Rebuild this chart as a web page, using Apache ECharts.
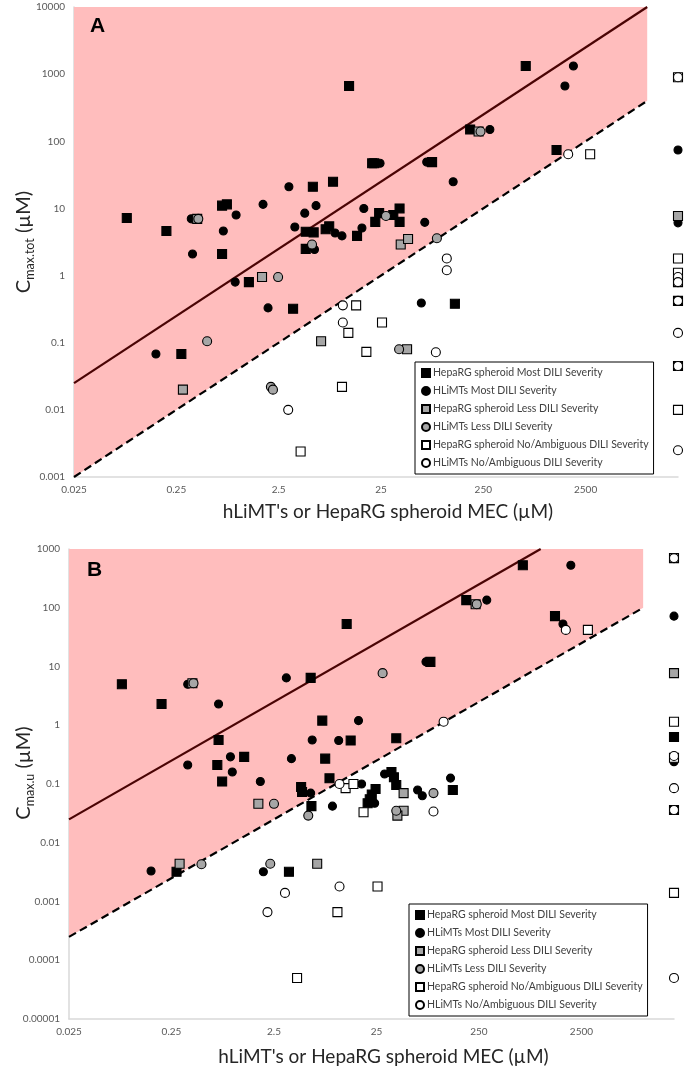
<!DOCTYPE html>
<html><head><meta charset="utf-8">
<script src="https://cdn.jsdelivr.net/npm/echarts@6/dist/echarts.min.js"></script>
<style>html,body{margin:0;padding:0;background:#fff}#c{width:685px;height:1069px}</style>
</head><body><div id="c"></div>
<script>
// ---------- categories / ticks ----------
const seriesNames = [
  'HepaRG spheroid Most DILI Severity',
  'HLiMTs Most DILI Severity',
  'HepaRG spheroid Less DILI Severity',
  'HLiMTs Less DILI Severity',
  'HepaRG spheroid No/Ambiguous DILI Severity',
  'HLiMTs No/Ambiguous DILI Severity'
];
const xTickValues = [0.025, 0.25, 2.5, 25, 250, 2500];
const xTickLabels = ['0.025', '0.25', '2.5', '25', '250', '2500'];
const yTickValuesA = [0.001, 0.01, 0.1, 1, 10, 100, 1000, 10000];
const yTickLabelsA = ['0.001', '0.01', '0.1', '1', '10', '100', '1000', '10000'];
const yTickValuesB = [0.00001, 0.0001, 0.001, 0.01, 0.1, 1, 10, 100, 1000];
const yTickLabelsB = ['0.00001', '0.0001', '0.001', '0.01', '0.1', '1', '10', '100', '1000'];

// ---------- reference lines (x, y) ----------
const unityLineA = [[0.025, 0.025], [10000, 10000]];
const lowerLineA = [[0.025, 0.001], [10000, 400]];
const unityLineB = [[0.025, 0.025], [1000, 1000]];
const lowerLineB = [[0.025, 0.00025], [10000, 100]];

// ---------- Panel A data: [MEC, Cmax.tot] ----------
const aHepaRGMost = [[0.082,7.2],[0.2,4.6],[0.7,11],[0.78,11.5],[0.7,2.1],[5.4,21],[8.5,25],[4.6,4.5],[5.5,4.4],[7.2,4.9],[7.8,5.4],[4.6,2.5],[1.28,0.8],[3.46,0.32],[20.5,47],[21.5,47],[79,49],[24,8.5],[22,6.3],[14.6,3.9],[33,8],[38,10],[38,6.3],[132,0.38],[12.2,665],[650,1320],[186,150],[1300,74],[0.28,0.068],[20000,0.42],[20000,0.045]];
const aHLiMTsMost = [[0.36,2.1],[0.35,7.0],[0.72,4.6],[0.96,8],[1.76,11.5],[3.15,21],[5.8,11],[4.5,8.5],[3.6,5.3],[8.9,4.3],[10.4,3.9],[5.6,2.45],[0.94,0.8],[1.97,0.33],[24.5,47],[70,49],[17,10],[16.3,5.1],[67,6.2],[62,0.39],[1900,1320],[1570,665],[290,150],[127,25],[0.158,0.068],[20000,74],[20000,6.1],[20000,1.0]];
const aHepaRGLess = [[0.4,7.0],[1.72,0.95],[39,2.9],[46,3.5],[6.5,0.105],[45,0.08],[0.29,0.02],[225,140],[20000,7.7]];
const aHLiMTsLess = [[0.41,7.0],[5.3,2.9],[2.47,0.95],[28,7.7],[88,3.6],[37.6,0.08],[2.1,0.022],[2.2,0.020],[0.5,0.105],[235,140]];
const aHepaRGNo = [[14.3,0.36],[25.6,0.2],[12,0.14],[18,0.073],[10.4,0.022],[4.1,0.0024],[2770,64],[20000,900],[20000,1.8],[20000,1.1],[20000,0.8],[20000,0.01]];
const aHLiMTsNo = [[110,1.8],[110,1.2],[10.6,0.36],[10.6,0.2],[86,0.072],[3.1,0.01],[1690,64],[20000,900],[20000,0.95],[20000,0.8],[20000,0.42],[20000,0.14],[20000,0.045],[20000,0.0025]];

// ---------- Panel B data: [MEC, Cmax.u] ----------
const bHepaRGMost = [[0.082,5.0],[0.2,2.3],[0.72,0.56],[0.7,0.21],[1.28,0.29],[0.78,0.11],[5.7,6.4],[7.4,1.2],[14,0.55],[7.9,0.27],[8.7,0.125],[12.8,53],[39,0.6],[4.6,0.089],[4.7,0.073],[5.8,0.042],[24.5,0.082],[22.5,0.066],[21.5,0.055],[20.5,0.047],[35,0.16],[37,0.13],[39,0.096],[139,0.079],[3.5,0.0032],[0.28,0.0032],[670,530],[188,135],[1380,72],[84,12],[20000,0.63],[20000,0.036]];
const bHLiMTsMost = [[0.36,5.0],[0.72,2.3],[0.36,0.21],[0.94,0.29],[0.98,0.16],[1.84,0.11],[3.3,6.4],[5.9,0.56],[10.7,0.55],[3.7,0.27],[16.7,1.2],[5.7,0.07],[9.3,0.042],[17.9,0.1],[24,0.047],[30,0.148],[63,0.079],[70,0.063],[132,0.126],[1.97,0.0032],[0.158,0.0033],[1970,530],[298,135],[1650,53],[76,12],[20000,72],[20000,0.24]];
const bHepaRGLess = [[0.4,5.2],[1.76,0.046],[46,0.07],[46,0.035],[40,0.029],[6.6,0.0044],[0.3,0.0044],[232,115],[20000,7.7]];
const bHLiMTsLess = [[0.41,5.2],[5.4,0.029],[2.5,0.046],[90,0.07],[39,0.035],[2.3,0.0044],[0.49,0.0043],[238,115],[28.7,7.7]];
const bHepaRGNo = [[12.5,0.085],[14.9,0.1],[18.7,0.033],[25.6,0.0018],[10.4,0.00066],[4.2,0.00005],[2890,42],[20000,700],[20000,1.15],[20000,0.28],[20000,0.0014]];
const bHLiMTsNo = [[10.9,0.1],[90,0.034],[113,1.15],[3.2,0.0014],[10.9,0.0018],[2.16,0.00066],[1760,42],[20000,700],[20000,0.3],[20000,0.085],[20000,0.036],[20000,0.00005]];

// ---------- build ----------
const FONT = 'Lato';
const PINK = '#ffbdbd';
const markerStyles = [
  {symbol:'rect', size:9, color:'#000000'},
  {symbol:'circle', size:8, color:'#000000'},
  {symbol:'rect', size:9, color:'#a6a6a6'},
  {symbol:'circle', size:9, color:'#a6a6a6'},
  {symbol:'rect', size:9, color:'#ffffff'},
  {symbol:'circle', size:9, color:'#ffffff'}
];
const panelA = [aHepaRGMost, aHLiMTsMost, aHepaRGLess, aHLiMTsLess, aHepaRGNo, aHLiMTsNo];
const panelB = [bHepaRGMost, bHLiMTsMost, bHepaRGLess, bHLiMTsLess, bHepaRGNo, bHLiMTsNo];

function lookup(vals, labels) {
  return function (v) {
    for (let i = 0; i < vals.length; i++) {
      if (Math.abs(Math.log10(vals[i]) - Math.log10(v)) < 1e-6) return labels[i];
    }
    return '';
  };
}

function xAxisFor(gi, nameGap) {
  return {
    type: 'log', logBase: 10, gridIndex: gi, min: 0.025, max: 20000,
    axisLine: {show: true, lineStyle: {color: '#d9d9d9', width: 1.5}},
    axisTick: {show: false}, splitLine: {show: false},
    axisLabel: {customValues: xTickValues, formatter: lookup(xTickValues, xTickLabels),
      fontFamily: FONT, fontSize: 10, color: '#595959', margin: 8},
    name: "hLiMT's or HepaRG spheroid MEC (µM)", nameLocation: 'middle', nameGap: nameGap,
    nameMoveOverlap: false,
    nameTextStyle: {fontFamily: FONT, fontSize: 19, color: '#262626', padding: [0, 0, 0, 24]}
  };
}
function yAxisFor(gi, min, max, vals, labels, sub, nameGap, shift) {
  return {
    type: 'log', logBase: 10, gridIndex: gi, min: min, max: max,
    axisLine: {show: true, lineStyle: {color: '#d9d9d9', width: 1.5}},
    axisTick: {show: false}, splitLine: {show: false},
    axisLabel: {customValues: vals, formatter: lookup(vals, labels),
      fontFamily: FONT, fontSize: 10, color: '#595959', margin: 9},
    name: '{c|C}{s|' + sub + '}{c| (µM)}', nameLocation: 'middle', nameGap: nameGap,
    nameMoveOverlap: false,
    nameTextStyle: {fontFamily: FONT, color: '#262626', padding: [0, 0, 0, shift], rich: {
      c: {fontFamily: FONT, fontSize: 20, lineHeight: 24, color: '#262626'},
      s: {fontFamily: FONT, fontSize: 12.5, lineHeight: 12, verticalAlign: 'bottom', color: '#262626'}
    }}
  };
}

const series = [];
[[panelA, 0, unityLineA, lowerLineA], [panelB, 1, unityLineB, lowerLineB]].forEach(function (p) {
  const data = p[0], gi = p[1];
  series.push({
    type: 'line', xAxisIndex: gi, yAxisIndex: gi, data: p[3], symbol: 'none', silent: true,
    lineStyle: {color: '#000', width: 2.2, type: [8, 4.5]},
    areaStyle: {origin: 'end', color: PINK, opacity: 1}, z: 1
  });
  series.push({
    type: 'line', xAxisIndex: gi, yAxisIndex: gi, data: p[2], symbol: 'none', silent: true,
    lineStyle: {color: '#4a0404', width: 2.2}, z: 2
  });
  data.forEach(function (d, i) {
    const m = markerStyles[i];
    series.push({
      name: seriesNames[i], type: 'scatter', xAxisIndex: gi, yAxisIndex: gi,
      data: d, symbol: m.symbol, symbolSize: m.size, clip: false, z: 3 + i,
      itemStyle: {color: m.color, borderColor: '#000', borderWidth: 1.1, opacity: 1}
    });
  });
});

function legendFor(left, top) {
  return {
    data: seriesNames, orient: 'vertical', left: left, top: top,
    itemWidth: 8, itemHeight: 8, itemGap: 4,
    padding: [4, 5, 4, 6], borderColor: '#000', borderWidth: 1,
    backgroundColor: '#fff', selectedMode: false,
    textStyle: {fontFamily: FONT, fontSize: 10.5, color: '#404040', lineHeight: 14, padding: [0, 0, 0, -2]}
  };
}

const chart = echarts.init(document.getElementById('c'), null, {renderer: 'canvas'});
chart.setOption({
  animation: false,
  backgroundColor: '#fff',
  grid: [
    {left: 74, top: 7, width: 604, height: 470, containLabel: false, outerBoundsMode: 'none'},
    {left: 69, top: 549, width: 605, height: 470, containLabel: false, outerBoundsMode: 'none'}
  ],
  xAxis: [xAxisFor(0, 25), xAxisFor(1, 28)],
  yAxis: [
    yAxisFor(0, 0.001, 10000, yTickValuesA, yTickLabelsA, 'max.tot', 38, 0),
    yAxisFor(1, 0.00001, 1000, yTickValuesB, yTickLabelsB, 'max.u', 33, 22)
  ],
  legend: [legendFor(415, 362), legendFor(409, 904)],
  series: series,
  graphic: [
    {type: 'text', left: 90, top: 16, z: 100, style: {text: 'A', font: 'bold 21px "Liberation Sans", Arial', fill: '#000'}},
    {type: 'text', left: 87, top: 560, z: 100, style: {text: 'B', font: 'bold 21px "Liberation Sans", Arial', fill: '#000'}}
  ]
});
</script>
</body></html>
